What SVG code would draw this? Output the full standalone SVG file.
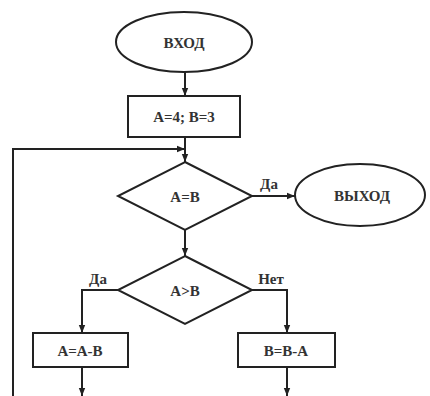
<svg xmlns="http://www.w3.org/2000/svg" width="430" height="396" viewBox="0 0 430 396">
<style>
.s{fill:#fff;stroke:#222;stroke-width:2}
.c{fill:none;stroke:#222;stroke-width:2}
text{font-family:'Liberation Serif','Times New Roman',serif;font-size:15px;font-weight:bold;fill:#333;text-anchor:middle}
.t{dominant-baseline:central}
</style>
<defs>
<marker id="a" viewBox="0 0 10 10" refX="10" refY="5" markerWidth="8" markerHeight="8" orient="auto" markerUnits="userSpaceOnUse"><path d="M0,1 L10,5 L0,9 Z" fill="#222"/></marker>
</defs>
<rect width="430" height="396" fill="#fff"/>
<g id="connectors">
<path class="c" d="M185,72 V96" marker-end="url(#a)"/>
<path class="c" d="M185,137 V162" marker-end="url(#a)"/>
<path class="c" d="M13,396 V149 H185" marker-end="url(#a)"/>
<path class="c" d="M252,196 H295" marker-end="url(#a)"/>
<path class="c" d="M185,230 V256" marker-end="url(#a)"/>
<path class="c" d="M118,290 H82 V333" marker-end="url(#a)"/>
<path class="c" d="M252,290 H287 V333" marker-end="url(#a)"/>
<path class="c" d="M82,367 V396" marker-end="url(#a)"/>
<path class="c" d="M287,367 V396" marker-end="url(#a)"/>
<text x="269" y="189">Да</text>
<text x="98" y="284">Да</text>
<text x="271" y="284">Нет</text>
</g>
<g id="start"><ellipse class="s" cx="184" cy="42" rx="68" ry="30"/><text class="t" x="184" y="43">ВХОД</text></g>
<g id="init"><rect class="s" x="128" y="96" width="112" height="41"/><text class="t" x="184" y="117">A=4; B=3</text></g>
<g id="cond1"><polygon class="s" points="185,162 252,196 185,230 118,196"/><text class="t" x="185" y="197">A=B</text></g>
<g id="exit"><ellipse class="s" cx="360" cy="195" rx="65" ry="31"/><text class="t" x="362" y="196">ВЫХОД</text></g>
<g id="cond2"><polygon class="s" points="185,256 252,290 185,324 118,290"/><text class="t" x="185" y="291">A&gt;B</text></g>
<g id="subA"><rect class="s" x="33" y="333" width="95" height="34"/><text class="t" x="80" y="351">A=A-B</text></g>
<g id="subB"><rect class="s" x="238" y="333" width="97" height="34"/><text class="t" x="286" y="351">B=B-A</text></g>
</svg>
